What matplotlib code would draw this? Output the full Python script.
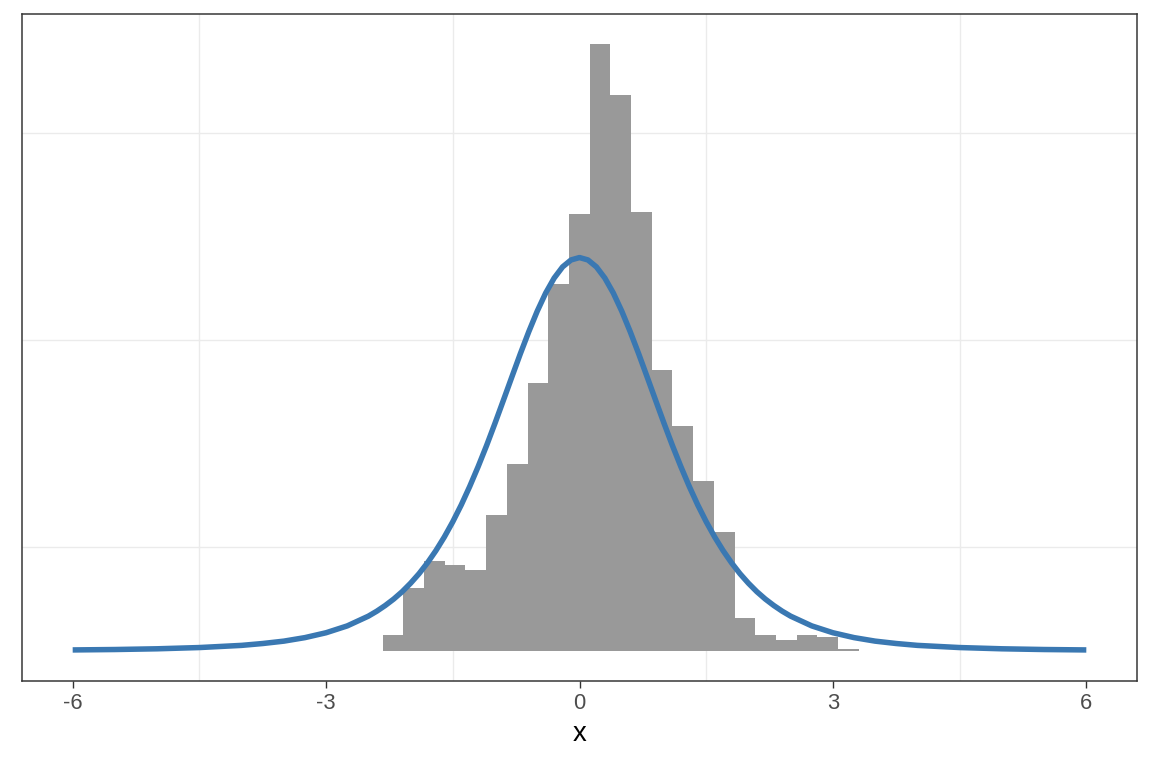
import numpy as np
import matplotlib
matplotlib.use("Agg")
import matplotlib.pyplot as plt

# histogram (density scale)
bin_edges = [-2.330, -2.085, -1.840, -1.595, -1.350, -1.105, -0.860, -0.615,
             -0.370, -0.125, 0.120, 0.365, 0.610, 0.855, 1.100, 1.345,
             1.590, 1.835, 2.080, 2.325, 2.570, 2.815, 3.060, 3.305]
density = [0.0155, 0.0609, 0.0870, 0.0831, 0.0783, 0.1314, 0.1807, 0.2580,
           0.3536, 0.4213, 0.5855, 0.5362, 0.4232, 0.2715, 0.2174, 0.1643,
           0.1150, 0.0319, 0.0155, 0.0106, 0.0155, 0.0135, 0.0019]

# fitted curve
curve_x = [-6, -5.5, -5, -4.5, -4, -3.75, -3.5, -3.25, -3, -2.75, -2.5,
           -2.4, -2.3, -2.2, -2.1, -2.0, -1.9, -1.8, -1.7, -1.6, -1.5,
           -1.4, -1.3, -1.2, -1.1, -1.0, -0.9, -0.8, -0.7, -0.6, -0.5,
           -0.4, -0.3, -0.2, -0.1, 0.0, 0.1, 0.2, 0.3, 0.4, 0.5,
           0.6, 0.7, 0.8, 0.9, 1.0, 1.1, 1.2, 1.3, 1.4, 1.5,
           1.6, 1.7, 1.8, 1.9, 2.0, 2.1, 2.2, 2.3, 2.4, 2.5,
           2.75, 3, 3.25, 3.5, 3.75, 4, 4.5, 5, 5.5, 6]
curve_y = [0.0007, 0.0011, 0.0018, 0.0030, 0.0051, 0.0069, 0.0092, 0.0126,
           0.0173, 0.0239, 0.0333,
           0.0381, 0.0436, 0.0498, 0.0569, 0.0651, 0.0743, 0.0848, 0.0966,
           0.1098, 0.1245,
           0.1407, 0.1585, 0.1777, 0.1981, 0.2197, 0.2420, 0.2645, 0.2868,
           0.3081, 0.3279,
           0.3454, 0.3598, 0.3706, 0.3773, 0.3796, 0.3773, 0.3706, 0.3598,
           0.3454, 0.3279,
           0.3081, 0.2868, 0.2645, 0.2420, 0.2197, 0.1981, 0.1777, 0.1585,
           0.1407, 0.1245,
           0.1098, 0.0966, 0.0848, 0.0743, 0.0651, 0.0569, 0.0498, 0.0436,
           0.0381, 0.0333,
           0.0239, 0.0173, 0.0126, 0.0092, 0.0069, 0.0051, 0.0030, 0.0018,
           0.0011, 0.0007]

x_ticks = [-6, -3, 0, 3, 6]

plt.rcParams['font.family'] = ['Liberation Sans', 'DejaVu Sans']

fig = plt.figure(figsize=(6.4, 4.2667), dpi=180)
ax = fig.add_axes([22 / 1152, 1 - 681 / 768, (1137 - 22) / 1152, (681 - 14) / 768])

edges = np.array(bin_edges)
ax.bar(edges[:-1], density, width=np.diff(edges), align='edge',
       color='#999999', linewidth=0, zorder=2)
ax.plot(curve_x, curve_y, color='#3A78B2', linewidth=2.2,
        solid_capstyle='butt', solid_joinstyle='round', zorder=3)

ax.set_xlim(-6.6, 6.6)
ax.set_ylim(-0.0293, 0.6148)

ax.set_xticks(x_ticks)
ax.set_xticklabels([str(t) for t in x_ticks])
ax.set_xticks([-4.5, -1.5, 1.5, 4.5], minor=True)
ax.set_yticks([])
ax.set_yticks([0.1, 0.3, 0.5], minor=True)
ax.grid(which='minor', color='#EBEBEB', linewidth=0.55, zorder=0)
ax.set_axisbelow(True)

ax.tick_params(axis='x', which='major', length=2.75, width=0.55, color='#333333',
               labelsize=8.8, labelcolor='#4D4D4D', pad=2.2)
ax.tick_params(axis='both', which='minor', length=0)
ax.tick_params(axis='y', which='both', length=0, labelleft=False)

for s in ax.spines.values():
    s.set_color('#333333')
    s.set_linewidth(0.6)

ax.set_xlabel('x', fontsize=11, color='black', labelpad=2.75)

fig.savefig('out.png', dpi=180)
